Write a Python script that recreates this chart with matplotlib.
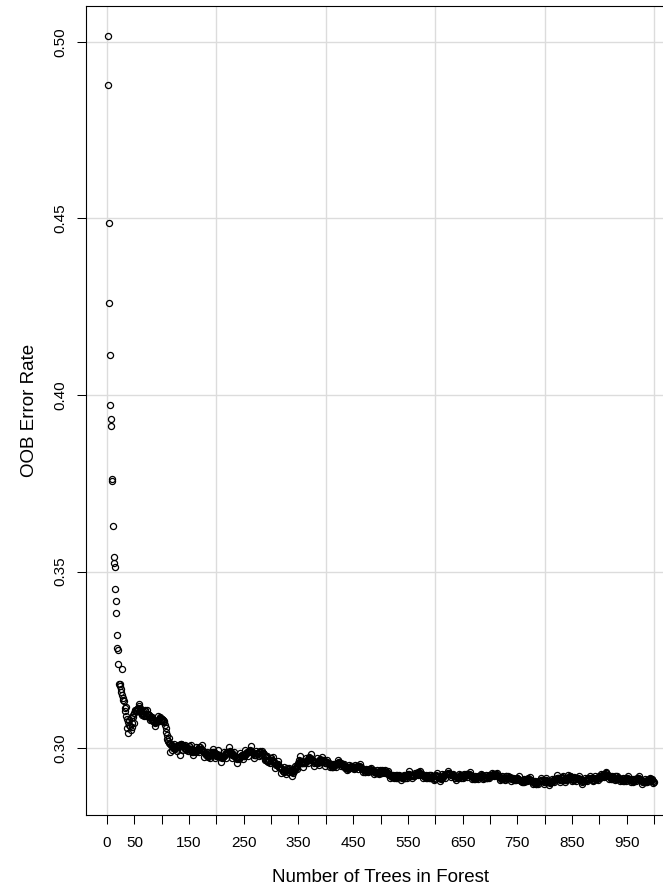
import numpy as np
import matplotlib
matplotlib.use("Agg")
import matplotlib.pyplot as plt

# OOB error rate after each tree (units of 1e-4), trees 1..1000
oob_0001 = [5017, 4878, 4488, 4259, 4114, 3972, 3933, 3913, 3761, 3756,
            3628, 3540, 3524, 3513, 3452, 3418, 3382, 3321, 3285, 3278,
            3239, 3183, 3176, 3181, 3168, 3160, 3224, 3150, 3141, 3136,
            3133, 3115, 3104, 3118, 3091, 3083, 3058, 3075, 3044, 3066,
            3081, 3062, 3052, 3085, 3070, 3060, 3087, 3094, 3072, 3100]
oob_0051 = [3106, 3108, 3107, 3104, 3110, 3115, 3112, 3120, 3126, 3114,
            3105, 3100, 3106, 3095, 3098, 3101, 3103, 3092, 3105, 3107,
            3092, 3095, 3107, 3098, 3096, 3093, 3094, 3081, 3088, 3089,
            3083, 3080, 3088, 3079, 3076, 3073, 3071, 3062, 3075, 3074,
            3075, 3078, 3090, 3079, 3082, 3085, 3087, 3076, 3084, 3082]
oob_0101 = [3084, 3080, 3081, 3074, 3076, 3066, 3056, 3046, 3036, 3026,
            3019, 3020, 3029, 3014, 2988, 3013, 3010, 2996, 3009, 3006,
            3000, 3001, 3011, 2998, 3001, 3003, 3002, 2993, 3008, 3007,
            3006, 3008, 2980, 3010, 3012, 3011, 3009, 2995, 3008, 3005,
            3000, 3001, 3010, 2996, 2997, 3000, 3002, 2993, 3007, 3006]
oob_0151 = [2998, 2996, 3009, 2994, 2991, 2989, 2990, 2980, 2991, 2994,
            2989, 2988, 3003, 2994, 2996, 2995, 2998, 2989, 3003, 3004,
            2998, 2996, 3009, 2994, 2992, 2993, 2990, 2976, 2985, 2986,
            2980, 2981, 2990, 2976, 2977, 2979, 2982, 2972, 2985, 2988,
            2984, 2983, 2998, 2988, 2987, 2989, 2986, 2972, 2981, 2979]
oob_0201 = [2982, 2984, 2995, 2980, 2978, 2979, 2976, 2962, 2975, 2972,
            2974, 2976, 2990, 2977, 2980, 2983, 2985, 2972, 2987, 2989,
            2986, 2989, 3003, 2992, 2990, 2987, 2988, 2973, 2982, 2983,
            2982, 2979, 2989, 2978, 2975, 2972, 2970, 2959, 2974, 2973,
            2970, 2973, 2987, 2974, 2977, 2980, 2982, 2969, 2979, 2977]
oob_0251 = [2979, 2981, 2996, 2983, 2986, 2988, 2990, 2977, 2992, 2990,
            2996, 2993, 3006, 2991, 2988, 2986, 2987, 2972, 2981, 2982,
            2982, 2980, 2993, 2983, 2986, 2985, 2988, 2979, 2992, 2990,
            2980, 2982, 2993, 2984, 2986, 2985, 2983, 2968, 2977, 2978,
            2966, 2964, 2977, 2962, 2963, 2966, 2968, 2958, 2972, 2971]
oob_0301 = [2968, 2966, 2975, 2964, 2961, 2958, 2959, 2944, 2953, 2954,
            2953, 2954, 2963, 2948, 2946, 2947, 2944, 2930, 2943, 2940,
            2935, 2936, 2946, 2933, 2936, 2938, 2937, 2928, 2943, 2942,
            2932, 2934, 2945, 2936, 2938, 2937, 2935, 2921, 2934, 2931,
            2935, 2938, 2949, 2941, 2944, 2947, 2950, 2941, 2956, 2958]
oob_0351 = [2966, 2964, 2977, 2962, 2959, 2957, 2958, 2948, 2959, 2962,
            2959, 2958, 2973, 2964, 2966, 2965, 2968, 2959, 2973, 2974,
            2972, 2970, 2983, 2968, 2966, 2967, 2964, 2950, 2959, 2960,
            2961, 2962, 2971, 2957, 2958, 2960, 2963, 2953, 2966, 2969,
            2962, 2961, 2976, 2966, 2965, 2967, 2964, 2950, 2959, 2957]
oob_0401 = [2959, 2961, 2967, 2958, 2956, 2957, 2955, 2946, 2954, 2952,
            2946, 2947, 2956, 2948, 2950, 2953, 2954, 2947, 2956, 2957,
            2957, 2959, 2967, 2961, 2960, 2957, 2958, 2949, 2954, 2954,
            2953, 2951, 2956, 2950, 2948, 2945, 2944, 2938, 2947, 2946,
            2941, 2944, 2952, 2944, 2947, 2949, 2951, 2943, 2948, 2947]
oob_0451 = [2941, 2943, 2952, 2944, 2947, 2948, 2950, 2942, 2951, 2950,
            2949, 2947, 2955, 2946, 2943, 2942, 2942, 2933, 2938, 2939,
            2934, 2933, 2941, 2935, 2937, 2937, 2939, 2934, 2942, 2940,
            2935, 2936, 2943, 2938, 2939, 2939, 2937, 2928, 2932, 2933,
            2932, 2930, 2938, 2929, 2930, 2932, 2933, 2928, 2937, 2936]
oob_0501 = [2929, 2931, 2938, 2934, 2935, 2934, 2936, 2930, 2937, 2934,
            2931, 2932, 2936, 2927, 2925, 2926, 2924, 2915, 2923, 2921,
            2918, 2919, 2925, 2917, 2919, 2921, 2920, 2915, 2924, 2924,
            2916, 2918, 2924, 2919, 2921, 2920, 2918, 2910, 2918, 2915,
            2920, 2920, 2925, 2917, 2917, 2920, 2921, 2917, 2925, 2924]
oob_0551 = [2928, 2927, 2935, 2925, 2923, 2922, 2922, 2917, 2923, 2925,
            2922, 2921, 2930, 2926, 2927, 2926, 2929, 2924, 2932, 2933,
            2930, 2928, 2936, 2927, 2925, 2926, 2924, 2915, 2920, 2920,
            2919, 2920, 2925, 2916, 2917, 2918, 2921, 2915, 2923, 2925,
            2916, 2915, 2924, 2919, 2918, 2920, 2917, 2909, 2914, 2912]
oob_0601 = [2921, 2923, 2929, 2920, 2918, 2919, 2917, 2908, 2916, 2914,
            2916, 2917, 2926, 2918, 2920, 2923, 2924, 2917, 2926, 2927,
            2926, 2928, 2936, 2930, 2929, 2926, 2927, 2918, 2923, 2923,
            2925, 2923, 2928, 2922, 2920, 2917, 2916, 2910, 2919, 2918,
            2915, 2918, 2926, 2918, 2921, 2923, 2925, 2917, 2922, 2921]
oob_0651 = [2917, 2919, 2928, 2920, 2923, 2924, 2926, 2918, 2927, 2926,
            2928, 2926, 2934, 2925, 2922, 2921, 2921, 2912, 2917, 2918,
            2914, 2913, 2921, 2915, 2917, 2917, 2919, 2914, 2922, 2920,
            2919, 2920, 2927, 2922, 2923, 2923, 2921, 2912, 2916, 2917,
            2919, 2917, 2925, 2916, 2917, 2919, 2920, 2915, 2924, 2923]
oob_0701 = [2920, 2922, 2929, 2925, 2926, 2925, 2927, 2921, 2928, 2925,
            2926, 2927, 2931, 2922, 2920, 2921, 2919, 2910, 2918, 2916,
            2914, 2915, 2921, 2913, 2915, 2917, 2916, 2911, 2920, 2920,
            2914, 2916, 2922, 2917, 2919, 2918, 2916, 2908, 2916, 2913,
            2912, 2912, 2917, 2909, 2909, 2912, 2913, 2909, 2917, 2916]
oob_0751 = [2914, 2913, 2921, 2911, 2909, 2908, 2908, 2903, 2909, 2911,
            2904, 2903, 2912, 2908, 2909, 2908, 2911, 2906, 2914, 2915,
            2913, 2911, 2919, 2910, 2908, 2909, 2907, 2898, 2903, 2903,
            2902, 2903, 2908, 2899, 2900, 2901, 2904, 2898, 2906, 2908,
            2907, 2906, 2915, 2910, 2909, 2911, 2908, 2900, 2905, 2903]
oob_0801 = [2909, 2911, 2917, 2908, 2906, 2907, 2905, 2896, 2904, 2902,
            2903, 2904, 2913, 2905, 2907, 2910, 2911, 2904, 2913, 2914,
            2913, 2915, 2923, 2917, 2916, 2913, 2914, 2905, 2910, 2910,
            2918, 2916, 2921, 2915, 2913, 2910, 2909, 2903, 2912, 2911,
            2912, 2915, 2923, 2915, 2918, 2920, 2922, 2914, 2919, 2918]
oob_0851 = [2907, 2909, 2918, 2910, 2913, 2914, 2916, 2908, 2917, 2916,
            2916, 2914, 2922, 2913, 2910, 2909, 2909, 2900, 2905, 2906,
            2908, 2907, 2915, 2909, 2911, 2911, 2913, 2908, 2916, 2914,
            2913, 2914, 2921, 2916, 2917, 2917, 2915, 2906, 2910, 2911,
            2915, 2913, 2921, 2912, 2913, 2915, 2916, 2911, 2920, 2919]
oob_0901 = [2917, 2919, 2926, 2922, 2923, 2922, 2924, 2918, 2925, 2922,
            2928, 2929, 2933, 2924, 2922, 2923, 2921, 2912, 2920, 2918,
            2914, 2915, 2921, 2913, 2915, 2917, 2916, 2911, 2920, 2920,
            2912, 2914, 2920, 2915, 2917, 2916, 2914, 2906, 2914, 2911,
            2911, 2911, 2916, 2908, 2908, 2911, 2912, 2908, 2916, 2915]
oob_0951 = [2915, 2914, 2922, 2912, 2910, 2909, 2909, 2904, 2910, 2912,
            2906, 2905, 2914, 2910, 2911, 2910, 2913, 2908, 2916, 2917,
            2915, 2913, 2921, 2912, 2910, 2911, 2909, 2900, 2905, 2905,
            2907, 2908, 2913, 2904, 2905, 2906, 2909, 2903, 2911, 2913,
            2909, 2908, 2917, 2912, 2911, 2913, 2910, 2902, 2907, 2905]

oob_err = np.array(oob_0001 + oob_0051 + oob_0101 + oob_0151 + oob_0201
                   + oob_0251 + oob_0301 + oob_0351 + oob_0401 + oob_0451
                   + oob_0501 + oob_0551 + oob_0601 + oob_0651 + oob_0701
                   + oob_0751 + oob_0801 + oob_0851 + oob_0901 + oob_0951) / 1e4
n_trees = np.arange(1, len(oob_err) + 1)

x_ticks = list(range(0, 1001, 50))
x_tick_labels = ["0", "50", "", "150", "", "250", "", "350", "", "450", "",
                 "550", "", "650", "", "750", "", "850", "", "950", ""]
x_grid = [0, 200, 400, 600, 800, 1000]
y_ticks = [0.30, 0.35, 0.40, 0.45, 0.50]
y_tick_labels = ["0.30", "0.35", "0.40", "0.45", "0.50"]

plt.rcParams['font.family'] = ['Liberation Sans', 'DejaVu Sans']

W, H = 663, 888

# base-R style axis ranges: data range padded by 4% each side
xpad = 0.04 * (n_trees.max() - n_trees.min())
ypad = 0.04 * (oob_err.max() - oob_err.min())
xlim = (n_trees.min() - xpad, n_trees.max() + xpad)
ylim = (oob_err.min() - ypad, oob_err.max() + ypad)

# pixel placement: x=0 at 107px, 0.547 px per tree; y=0.30 at 748.2px, 3532.5 px per unit
left_px = 107 + xlim[0] * 0.547
right_px = 107 + xlim[1] * 0.547
top_px = 748.2 - (ylim[1] - 0.30) * 3532.5
bot_px = 748.2 + (0.30 - ylim[0]) * 3532.5

fig = plt.figure(figsize=(W / 100, H / 100), dpi=100)
ax = fig.add_axes([left_px / W, 1 - bot_px / H,
                   (right_px - left_px) / W, (bot_px - top_px) / H])
ax.set_xlim(*xlim)
ax.set_ylim(*ylim)

for gx in x_grid:
    ax.axvline(gx, color='#dcdcdc', lw=1.0, zorder=0)
for gy in y_ticks:
    ax.axhline(gy, color='#dcdcdc', lw=1.0, zorder=0)

ax.plot(n_trees, oob_err, 'o', mfc='none', mec='black', ms=4.4, mew=0.9,
        zorder=2)

ax.set_xticks(x_ticks)
ax.set_xticklabels(x_tick_labels)
ax.set_yticks(y_ticks)
ax.set_yticklabels(y_tick_labels, rotation=90, va='center', ha='right')
ax.tick_params(direction='out', length=6.5, width=0.75, labelsize=11,
               colors='black')
ax.tick_params(axis='x', pad=9)
ax.tick_params(axis='y', pad=6.5)
for sp in ax.spines.values():
    sp.set_linewidth(0.8)
    sp.set_color('black')

fig.text(381 / W, 1 - 877 / H, 'Number of Trees in Forest', ha='center',
         va='center', fontsize=13.5)
fig.text(30 / W, 1 - 410 / H, 'OOB Error Rate', ha='center', va='center',
         rotation=90, fontsize=13.5)

fig.savefig('out.png', dpi=100)
